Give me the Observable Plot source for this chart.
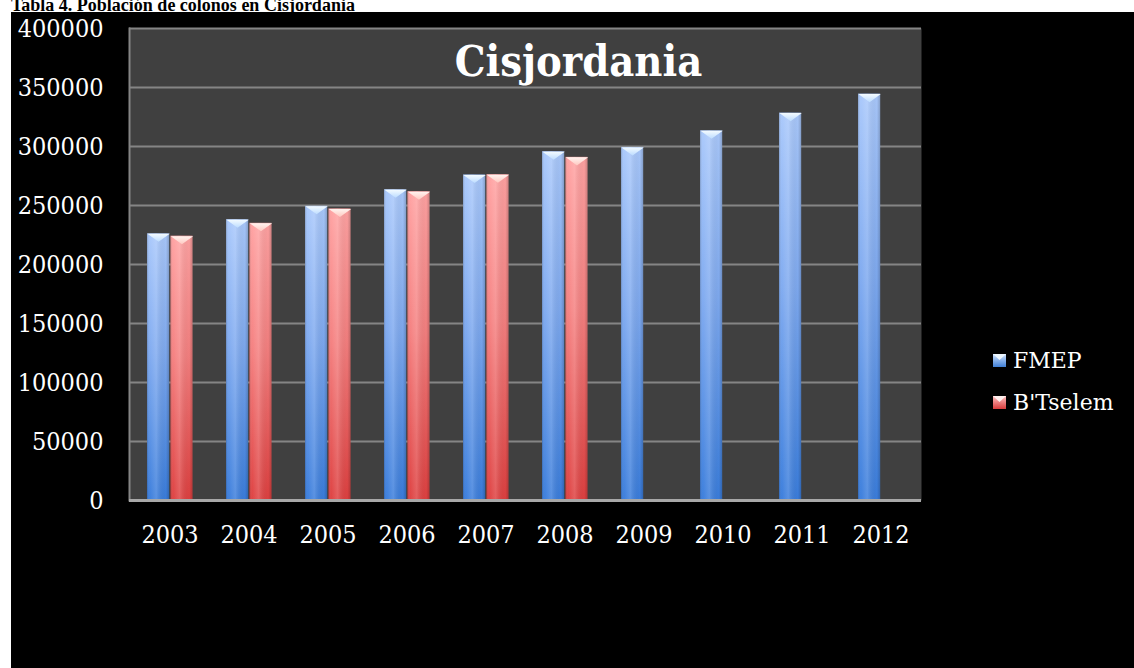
<!DOCTYPE html>
<html>
<head>
<meta charset="utf-8">
<script src="https://cdn.jsdelivr.net/npm/d3@7"></script>
<script src="https://cdn.jsdelivr.net/npm/@observablehq/plot@0.6"></script>
<style>
  html, body { margin: 0; padding: 0; background: #fff; }
  body { width: 1134px; height: 668px; position: relative; overflow: hidden; }
  #caption {
    position: absolute; left: 11px; top: -4px;
    font: bold 18px "Liberation Serif", "Times New Roman", serif;
    line-height: 18px; color: #000; white-space: nowrap;
  }
  #panel {
    position: absolute; left: 11px; top: 12px; width: 1123px; height: 656px;
    background: #000;
  }
  #panel > svg { position: absolute; left: 0; top: 0; }
  .legend { position: absolute; left: 982px; color: #fff;
    font: 22px "DejaVu Serif", serif; display: flex; align-items: center; gap: 7px; }
  .legend svg { display: block; }
</style>
</head>
<body>
<div id="caption">Tabla 4. Población de colonos en Cisjordania</div>
<div id="panel"></div>
<script>
// Settler population in the West Bank, two sources
const years = ["2003", "2004", "2005", "2006", "2007", "2008", "2009", "2010", "2011", "2012"];
const fmep = [226000, 238000, 249300, 263400, 275900, 295600, 299200, 313300, 328300, 344400];
const btselem = [224000, 234900, 247100, 261700, 276100, 290800];
const seriesNames = ["FMEP", "B'Tselem"];
const yTicks = [0, 50000, 100000, 150000, 200000, 250000, 300000, 350000, 400000];

const fmepRows = years.map((year, i) => ({year, value: fmep[i]}));
const btRows = btselem.map((value, i) => ({year: years[i], value}));

const width = 1123, height = 560;
const marginLeft = 118, marginRight = 213, marginTop = 16, marginBottom = 72;
const step = (width - marginLeft - marginRight) / years.length;

// each year's band holds two side-by-side bars
const slots = [[0.215, 0.497], [0.510, 0.792]];
const inset = ([a, b]) => ({insetLeft: step * a, insetRight: step * (1 - b)});
const centerOffset = ([a, b]) => step * ((a + b) / 2 - 0.5);
const halfWidth = ([a, b]) => step * (b - a) / 2;

// flat downward triangle used as the bevel on top of each bar
const cap = {
  draw(ctx, size) {
    const r = Math.sqrt(size / Math.PI);
    ctx.moveTo(-r, 0);
    ctx.lineTo(r, 0);
    ctx.lineTo(0, r * 0.72);
    ctx.closePath();
  }
};

function barSet(rows, slot, base, capFill) {
  return [
    Plot.barY(rows, {x: "year", y: "value", fill: base, ...inset(slot)}),
    Plot.barY(rows, {x: "year", y: "value", fill: "url(#shine)", ...inset(slot)}),
    Plot.dot(rows, {x: "year", y: "value", symbol: cap, r: halfWidth(slot),
      fill: capFill, stroke: "none", dx: centerOffset(slot)})
  ];
}

const chart = Plot.plot({
  width, height, marginLeft, marginRight, marginTop, marginBottom,
  style: {background: "transparent", color: "#fff", fontFamily: "'DejaVu Serif Condensed', 'DejaVu Serif', serif", fontSize: "25px"},
  x: {domain: years, padding: 0, tickSize: 0, tickPadding: 25, label: null},
  y: {domain: [0, 400000], ticks: yTicks, tickFormat: d3.format("d"), tickSize: 0, tickPadding: 26, label: null},
  marks: [
    Plot.frame({fill: "#404040"}),
    Plot.ruleY(yTicks.filter(d => d > 0), {stroke: "#858585", strokeWidth: 2}),
    Plot.frame({anchor: "left", stroke: "#858585", strokeWidth: 2}),
    ...barSet(fmepRows, slots[0], "url(#blue)", "url(#capBlue)"),
    ...barSet(btRows, slots[1], "url(#red)", "url(#capRed)"),
    Plot.ruleY([0], {stroke: "#a8a8a8", strokeWidth: 3}),
    Plot.text(["Cisjordania"], {frameAnchor: "top", dx: 53, dy: 17, lineAnchor: "top",
      text: d => d, fill: "#fff", fontSize: 43, fontWeight: "bold",
      fontFamily: "'DejaVu Serif Condensed', 'DejaVu Serif', serif"})
  ]
});

const gradients = `
  <linearGradient id="blue" x1="0" y1="0" x2="0" y2="1">
    <stop offset="0" stop-color="#a9c8fb"/>
    <stop offset="0.45" stop-color="#7faaf0"/>
    <stop offset="1" stop-color="#3a7ddc"/>
  </linearGradient>
  <linearGradient id="red" x1="0" y1="0" x2="0" y2="1">
    <stop offset="0" stop-color="#ffa2a2"/>
    <stop offset="0.45" stop-color="#f58080"/>
    <stop offset="1" stop-color="#de4040"/>
  </linearGradient>
  <linearGradient id="shine" x1="0" y1="0" x2="1" y2="0">
    <stop offset="0" stop-color="#000" stop-opacity="0.18"/>
    <stop offset="0.12" stop-color="#fff" stop-opacity="0.02"/>
    <stop offset="0.42" stop-color="#fff" stop-opacity="0.16"/>
    <stop offset="0.85" stop-color="#000" stop-opacity="0.02"/>
    <stop offset="1" stop-color="#000" stop-opacity="0.2"/>
  </linearGradient>
  <linearGradient id="capBlue" x1="0" y1="0" x2="0" y2="1">
    <stop offset="0" stop-color="#f4fbff"/>
    <stop offset="1" stop-color="#bcdcff"/>
  </linearGradient>
  <linearGradient id="capRed" x1="0" y1="0" x2="0" y2="1">
    <stop offset="0" stop-color="#fff4f0"/>
    <stop offset="1" stop-color="#ffc8c0"/>
  </linearGradient>`;
d3.select(chart).insert("defs", ":first-child").html(gradients);

const panel = document.getElementById("panel");
panel.appendChild(chart);

// legend: a small bar icon per series
const legendColors = {"FMEP": ["#cfe2ff", "#3f7fd6", "#eef7ff"], "B'Tselem": ["#ffc0c0", "#d83c3c", "#fff0ee"]};
seriesNames.forEach((name, i) => {
  const [top, bottom, capc] = legendColors[name];
  const row = document.createElement("div");
  row.className = "legend";
  row.style.top = (336 + i * 42) + "px";
  row.innerHTML = `<svg width="13" height="13" viewBox="0 0 13 13">
      <defs><linearGradient id="lg${i}" x1="0" y1="0" x2="0" y2="1">
        <stop offset="0" stop-color="${top}"/><stop offset="1" stop-color="${bottom}"/></linearGradient></defs>
      <rect width="13" height="13" fill="url(#lg${i})"/>
      <path d="M0,0H13L6.5,6Z" fill="${capc}"/>
    </svg><span>${name}</span>`;
  panel.appendChild(row);
});
</script>
</body>
</html>
